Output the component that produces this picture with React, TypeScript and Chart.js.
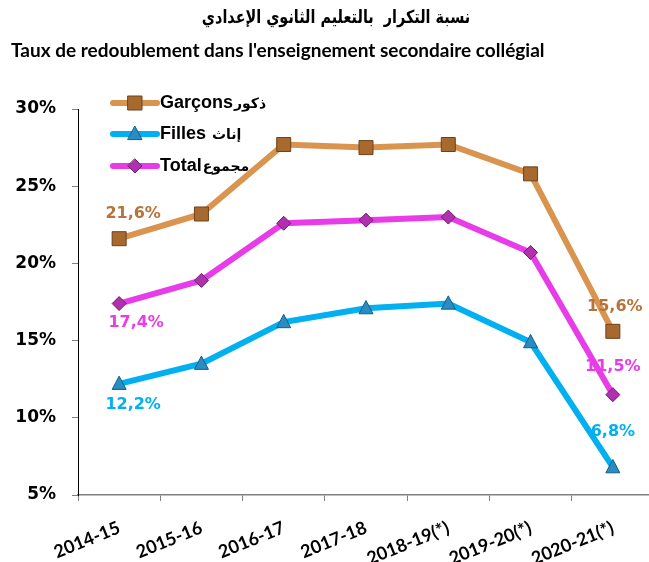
import React, { useEffect, useRef } from "react";
import { Chart, registerables } from "chart.js";

Chart.register(...registerables);

const categories = ["2014-15", "2015-16", "2016-17", "2017-18", "2018-19(*)", "2019-20(*)", "2020-21(*)"];
const garcons = [21.6, 23.2, 27.7, 27.5, 27.7, 25.8, 15.6];
const filles = [12.2, 13.5, 16.2, 17.1, 17.4, 14.9, 6.8];
const total = [17.4, 18.9, 22.6, 22.8, 23.0, 20.7, 11.5];
const yTicks = [5, 10, 15, 20, 25, 30];

const titleAr = "نسبة التكرار  بالتعليم الثانوي الإعدادي";
const titleFr = "Taux de redoublement dans l'enseignement secondaire collégial";
const legendNames = ["Garçons", "Filles", "Total"];
const legendAr = ["ذكور", " إناث", "مجموع"];

const styles = [
  { line: "#D9954F", fill: "#A8692F", stroke: "#6E4219", label: "#B8733A", shape: "rect", off: [[14, -25], [2, -24]] },
  { line: "#00B0F0", fill: "#2A8CC0", stroke: "#155E86", label: "#00B0F0", shape: "triangle", off: [[14, 21], [0, -35]] },
  { line: "#E83CE8", fill: "#B030B0", stroke: "#6E1C6E", label: "#E83CE8", shape: "rectRot", off: [[17, 19], [0, -28]] },
];

function drawMarker(ctx: CanvasRenderingContext2D, shape: string, x: number, y: number, r: number, fill: string, stroke: string) {
  ctx.save();
  ctx.beginPath();
  if (shape === "rect") {
    ctx.rect(x - r, y - r, 2 * r, 2 * r);
  } else if (shape === "triangle") {
    ctx.moveTo(x, y - r * 1.1);
    ctx.lineTo(x + r, y + r * 0.8);
    ctx.lineTo(x - r, y + r * 0.8);
    ctx.closePath();
  } else {
    ctx.moveTo(x, y - r);
    ctx.lineTo(x + r, y);
    ctx.lineTo(x, y + r);
    ctx.lineTo(x - r, y);
    ctx.closePath();
  }
  ctx.fillStyle = fill;
  ctx.fill();
  ctx.lineWidth = 1;
  ctx.strokeStyle = stroke;
  ctx.stroke();
  ctx.restore();
}

const fmt = (v: number) => v.toFixed(1).replace(".", ",") + "%";

const overlayPlugin = {
  id: "overlay",
  afterDatasetsDraw(chart: any) {
    const ctx: CanvasRenderingContext2D = chart.ctx;
    ctx.save();
    // titles
    ctx.fillStyle = "#000";
    ctx.textBaseline = "middle";
    ctx.save();
    ctx.translate(336, 18);
    ctx.scale(0.8, 1);
    ctx.font = "bold 18px 'DejaVu Sans'";
    ctx.textAlign = "center";
    ctx.direction = "rtl";
    ctx.fillText(titleAr, 0, 0);
    ctx.restore();
    ctx.direction = "ltr";
    ctx.textAlign = "left";
    ctx.font = "bold 19px Lato";
    ctx.fillText(titleFr, 11, 51);

    // markers + data labels
    chart.data.datasets.forEach((ds: any, di: number) => {
      const meta = chart.getDatasetMeta(di);
      const st = styles[di];
      meta.data.forEach((pt: any) => {
        drawMarker(ctx, st.shape, pt.x, pt.y, 7, st.fill, st.stroke);
      });
      const idxs = [0, ds.data.length - 1];
      ctx.font = "bold 16px 'DejaVu Sans'";
      ctx.fillStyle = st.label;
      ctx.textAlign = "center";
      idxs.forEach((idx, k) => {
        const pt = meta.data[idx];
        ctx.fillText(fmt(ds.data[idx]), pt.x + st.off[k][0], pt.y + st.off[k][1]);
      });
    });

    // legend
    const rows = [103, 134, 166];
    rows.forEach((y, i) => {
      const st = styles[i];
      ctx.beginPath();
      ctx.lineCap = "round";
      ctx.lineWidth = 6;
      ctx.strokeStyle = st.line;
      ctx.moveTo(113, y);
      ctx.lineTo(157, y);
      ctx.stroke();
      drawMarker(ctx, st.shape, 135, y, 7, st.fill, st.stroke);
      ctx.fillStyle = "#000";
      ctx.textAlign = "left";
      ctx.font = "bold 18px 'Liberation Sans'";
      ctx.fillText(legendNames[i], 160, y);
      const w = ctx.measureText(legendNames[i]).width;
      ctx.font = "bold 14px 'DejaVu Sans'";
      ctx.fillText(legendAr[i], 160 + w + 1, y + 1);
    });
    ctx.restore();
  },
};

export default function App() {
  const ref = useRef<HTMLCanvasElement>(null);
  useEffect(() => {
    if (!ref.current) return;
    const mk = (label: string, data: number[], i: number) => ({
      label,
      data,
      borderColor: styles[i].line,
      backgroundColor: styles[i].line,
      borderWidth: 6,
      pointRadius: 0,
      tension: 0,
      fill: false,
    });
    const chart = new Chart(ref.current, {
      type: "line",
      data: {
        labels: categories,
        datasets: [mk("Garçons", garcons, 0), mk("Filles", filles, 1), mk("Total", total, 2)],
      },
      options: {
        animation: false,
        responsive: false,
        maintainAspectRatio: false,
        layout: { padding: { top: 109, right: 6, left: 0, bottom: 0 } },
        plugins: { legend: { display: false }, tooltip: { enabled: false }, title: { display: false } },
        scales: {
          x: {
            offset: true,
            grid: { offset: true, drawOnChartArea: false, drawTicks: true, tickLength: 6, color: "#808080" },
            border: { color: "#808080", width: 1.5 },
            ticks: {
              color: "#000",
              font: { family: "Lato", weight: "bold", size: 18 },
              minRotation: 22,
              maxRotation: 22,
              padding: 16,
              autoSkip: false,
            },
            afterFit: (s: any) => { s.height = 67; },
          },
          y: {
            min: yTicks[0],
            max: yTicks[yTicks.length - 1],
            afterBuildTicks: (s: any) => { s.ticks = yTicks.map((v) => ({ value: v })); },
            grid: { drawOnChartArea: false, drawTicks: true, tickLength: 6, color: "#808080" },
            border: { color: "#000", width: 1 },
            ticks: {
              color: "#000",
              font: { family: "'DejaVu Sans'", weight: "bold", size: 17 },
              padding: 16,
              callback: (v: any) => v + "%",
            },
            afterFit: (s: any) => { s.width = 78; },
          },
        },
      },
      plugins: [overlayPlugin],
    } as any);
    return () => chart.destroy();
  }, []);
  return (
    <div style={{ position: "absolute", left: 0, top: 0, width: 649, height: 562, overflow: "hidden", background: "#fff" }}>
      <canvas ref={ref} width={660} height={562} style={{ width: 660, height: 562, display: "block" }} />
    </div>
  );
}
